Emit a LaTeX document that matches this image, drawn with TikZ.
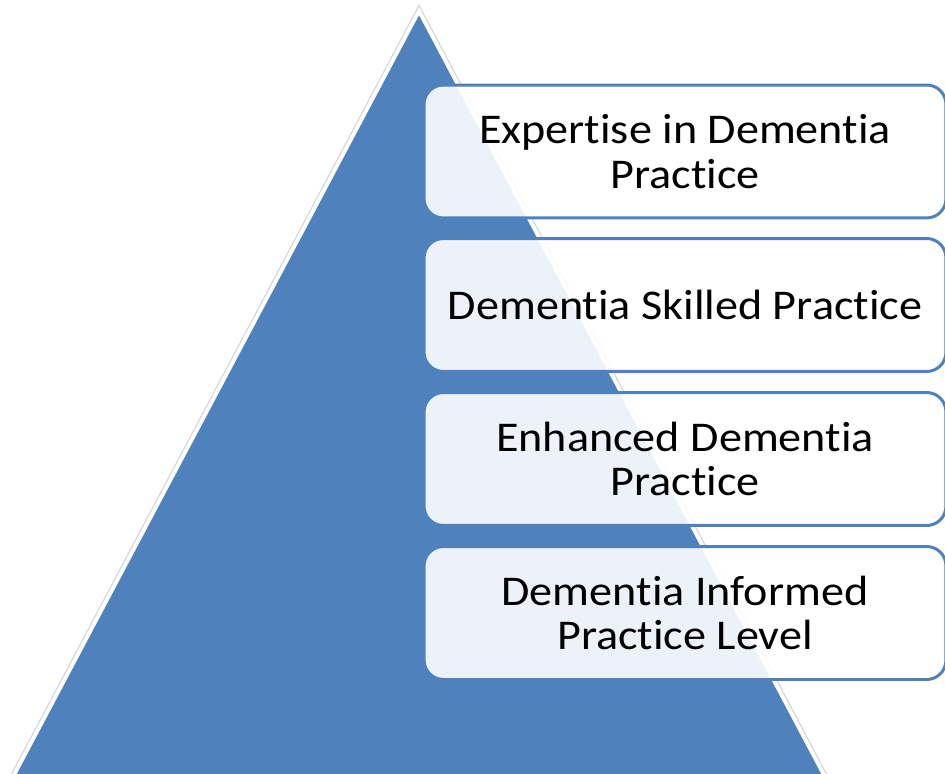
\documentclass[tikz,border=0pt]{standalone}
\usepackage{fontspec}
\setmainfont{Carlito}[Ligatures=NoCommon, FakeStretch=1.09]
\usepackage{tikz}
\usetikzlibrary{calc}
\definecolor{pyr}{HTML}{4F81BD}
\definecolor{halo}{HTML}{D4D4D4}
\tikzset{
  pyramid/.style={fill=pyr, draw=white, line width=2.2pt, line join=miter},
  shade/.style={draw=halo, line width=3.6pt, line join=miter},
  level/.style={draw=pyr, line width=1.7pt, rounded corners=11pt,
    fill=white, fill opacity=0.9, text opacity=1,
    minimum width=10.44cm, minimum height=2.66cm, inner sep=0pt,
    align=center, font=\fontsize{24.1}{25.5}\selectfont},
}

\begin{document}
\begin{tikzpicture}[x=0.02cm,y=-0.02cm]
  \useasboundingbox (0,0) rectangle (945,773);
  \clip (0,0) rectangle (945,773);
  \coordinate (apex) at (419,11);
  \coordinate (bl) at (6,790);
  \coordinate (br) at (832,790);
  % pyramid with its faint outline
  \draw[shade] (apex)--(bl)--(br)--cycle;
  \draw[pyramid] (apex)--(bl)--(br)--cycle;
  % the four levels, top down
  \foreach \name/\y/\txt in {expert/151.5/{Expertise in Dementia\\Practice},
                             skilled/305/{Dementia Skilled Practice},
                             enhanced/459/{Enhanced Dementia\\Practice},
                             informed/613/{Dementia Informed\\Practice Level}}
    \node[level] (\name) at (685,\y) {\txt};
\end{tikzpicture}
\end{document}
